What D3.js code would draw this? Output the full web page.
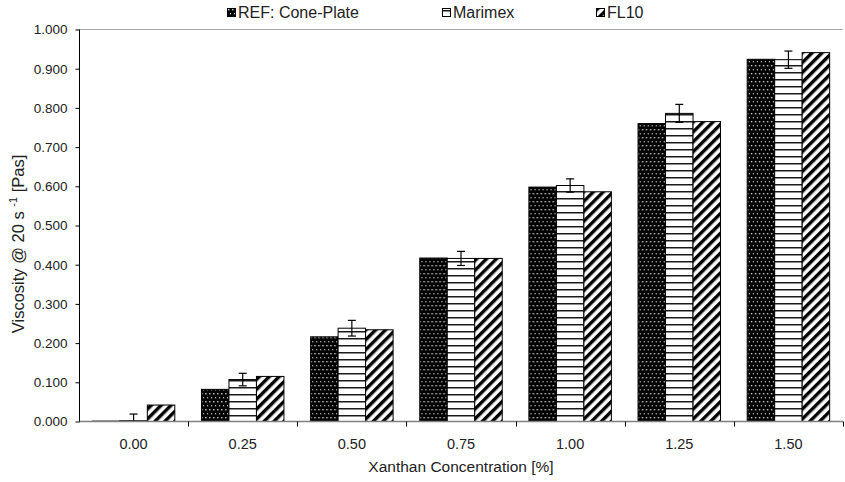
<!DOCTYPE html>
<html>
<head>
<meta charset="utf-8">
<script src="https://cdn.jsdelivr.net/npm/d3@7"></script>
<style>
  html, body { margin: 0; padding: 0; background: #fff; }
  svg { display: block; font-family: "Liberation Sans", Arial, sans-serif; }
</style>
</head>
<body>
<svg id="chart" width="845" height="482"></svg>
<script>
// Xanthan concentration categories and measured viscosities
const categories = ["0.00", "0.25", "0.50", "0.75", "1.00", "1.25", "1.50"];
const seriesNames = ["REF: Cone-Plate", "Marimex", "FL10"];
const refValues = [0.001, 0.082, 0.216, 0.417, 0.598, 0.760, 0.924];
const marimexValues = [0.002, 0.107, 0.238, 0.416, 0.602, 0.786, 0.923];
const marimexErrors = [0.017, 0.016, 0.020, 0.018, 0.017, 0.023, 0.022];
const fl10Values = [0.042, 0.115, 0.234, 0.416, 0.586, 0.765, 0.941];
const yTicks = [0, 0.1, 0.2, 0.3, 0.4, 0.5, 0.6, 0.7, 0.8, 0.9, 1.0];

const svg = d3.select("#chart");
const margin = { left: 79, right: 2, top: 29, bottom: 60 };
const W = 845, H = 482;
const textColor = "#222";

// Fill patterns for the three series
const defs = svg.append("defs");
const dots = defs.append("pattern").attr("id", "pat-dots")
  .attr("patternUnits", "userSpaceOnUse").attr("width", 4).attr("height", 8);
dots.append("rect").attr("width", 4).attr("height", 8).attr("fill", "#000");
dots.append("rect").attr("x", 1).attr("y", 1).attr("width", 1.4).attr("height", 1.4).attr("fill", "#d0d0d0");
dots.append("rect").attr("x", 3).attr("y", 5).attr("width", 1.4).attr("height", 1.4).attr("fill", "#d0d0d0");

const hlines = defs.append("pattern").attr("id", "pat-hlines")
  .attr("patternUnits", "userSpaceOnUse").attr("width", 8).attr("height", 7);
hlines.append("rect").attr("width", 8).attr("height", 7).attr("fill", "#fff");
hlines.append("rect").attr("y", 2).attr("width", 8).attr("height", 1.5).attr("fill", "#1a1a1a");

const diag = defs.append("pattern").attr("id", "pat-diag")
  .attr("patternUnits", "userSpaceOnUse").attr("width", 7).attr("height", 7)
  .attr("patternTransform", "rotate(45)");
diag.append("rect").attr("width", 7).attr("height", 7).attr("fill", "#fff");
diag.append("rect").attr("width", 3.4).attr("height", 7).attr("fill", "#000");

const fills = ["url(#pat-dots)", "url(#pat-hlines)", "url(#pat-diag)"];

// Scales
const x0 = d3.scaleBand().domain(categories)
  .range([margin.left, W - margin.right]).paddingInner(0).paddingOuter(0);
const x1 = d3.scaleBand().domain(seriesNames)
  .range([0, x0.bandwidth()]).paddingInner(0).paddingOuter(0.485);
const y = d3.scaleLinear().domain([0, 1]).range([H - margin.bottom - 0.5, margin.top + 0.5]);

// Top reference line at 1.000
svg.append("line")
  .attr("x1", margin.left).attr("x2", W - margin.right)
  .attr("y1", y(1)).attr("y2", y(1))
  .attr("stroke", "#a8a8a8").attr("stroke-width", 1.2);

// Bars
const rows = categories.map((c, i) => ({
  cat: c,
  vals: [
    { s: seriesNames[0], v: refValues[i], k: 0 },
    { s: seriesNames[1], v: marimexValues[i], k: 1, e: marimexErrors[i] },
    { s: seriesNames[2], v: fl10Values[i], k: 2 }
  ]
}));

const groups = svg.append("g").selectAll("g").data(rows).join("g")
  .attr("transform", d => `translate(${x0(d.cat)},0)`);

groups.selectAll("rect").data(d => d.vals).join("rect")
  .attr("x", d => x1(d.s))
  .attr("y", d => y(d.v))
  .attr("width", x1.bandwidth())
  .attr("height", d => y(0) - y(d.v))
  .attr("fill", d => fills[d.k])
  .attr("stroke", "#000")
  .attr("stroke-width", 1);

// Error bars on the Marimex series
const err = groups.selectAll("g.err").data(d => d.vals.filter(v => v.e != null)).join("g")
  .attr("class", "err")
  .attr("transform", d => `translate(${x1(d.s) + x1.bandwidth() / 2},0)`);
err.append("line")
  .attr("y1", d => y(Math.max(0, d.v - d.e))).attr("y2", d => y(d.v + d.e))
  .attr("stroke", "#000").attr("stroke-width", 1.2);
err.append("line")
  .attr("x1", -4).attr("x2", 4)
  .attr("y1", d => y(d.v + d.e)).attr("y2", d => y(d.v + d.e))
  .attr("stroke", "#000").attr("stroke-width", 1.2);
err.filter(d => d.v - d.e > 0).append("line")
  .attr("x1", -4).attr("x2", 4)
  .attr("y1", d => y(d.v - d.e)).attr("y2", d => y(d.v - d.e))
  .attr("stroke", "#000").attr("stroke-width", 1.2);

// X axis: gray baseline with tick marks at the category boundaries
const xAxisG = svg.append("g");
xAxisG.append("line")
  .attr("x1", margin.left).attr("x2", W - margin.right)
  .attr("y1", y(0)).attr("y2", y(0))
  .attr("stroke", "#808080").attr("stroke-width", 1.5);
const boundaries = categories.map(c => x0(c)).concat([x0(categories[categories.length - 1]) + x0.bandwidth()]);
xAxisG.selectAll("line.tk").data(boundaries.slice(1)).join("line")
  .attr("class", "tk")
  .attr("x1", d => Math.round(d) + 0.5).attr("x2", d => Math.round(d) + 0.5)
  .attr("y1", y(0)).attr("y2", y(0) + 5)
  .attr("stroke", "#000");
xAxisG.selectAll("text").data(categories).join("text")
  .attr("x", d => x0(d) + x0.bandwidth() / 2)
  .attr("y", y(0) + 27)
  .attr("text-anchor", "middle")
  .attr("font-size", 14.5)
  .attr("fill", textColor)
  .text(d => d);

// Y axis
const yAxis = d3.axisLeft(y).tickValues(yTicks).tickSize(4).tickPadding(8)
  .tickFormat(d3.format(".3f"));
const yAxisG = svg.append("g").attr("transform", `translate(${margin.left + 0.5},0)`).call(yAxis);
yAxisG.select(".domain").attr("stroke", "#000").attr("d", `M0,${y(1)}V${y(0)}`);
yAxisG.selectAll(".tick line").attr("stroke", "#000");
yAxisG.selectAll(".tick text")
  .attr("font-size", 13.5).attr("fill", textColor)
  .attr("font-family", "'Liberation Sans', Arial, sans-serif");

// Axis titles
svg.append("text")
  .attr("x", (margin.left + W - margin.right) / 2)
  .attr("y", 472)
  .attr("text-anchor", "middle")
  .attr("font-size", 15.5)
  .attr("fill", textColor)
  .text("Xanthan Concentration [%]");

const yTitle = svg.append("text")
  .attr("transform", `translate(24,244) rotate(-90)`)
  .attr("text-anchor", "middle")
  .attr("font-size", 16.5)
  .attr("fill", textColor);
yTitle.append("tspan").text("Viscosity @ 20 s ");
yTitle.append("tspan").attr("font-size", 11).attr("dy", -7).text("-1");
yTitle.append("tspan").attr("dy", 7).text(" [Pas]");

// Legend
const legendX = [227, 442, 596];
const legend = svg.append("g").selectAll("g").data(seriesNames).join("g")
  .attr("transform", (d, i) => `translate(${legendX[i]},8)`);
legend.append("rect")
  .attr("x", 0.5).attr("y", 0.5).attr("width", 8).attr("height", 8)
  .attr("fill", (d, i) => fills[i]).attr("stroke", "#000");
legend.append("text")
  .attr("x", 11).attr("y", 10)
  .attr("font-size", 16)
  .attr("fill", textColor)
  .text(d => d);
</script>
</body>
</html>
